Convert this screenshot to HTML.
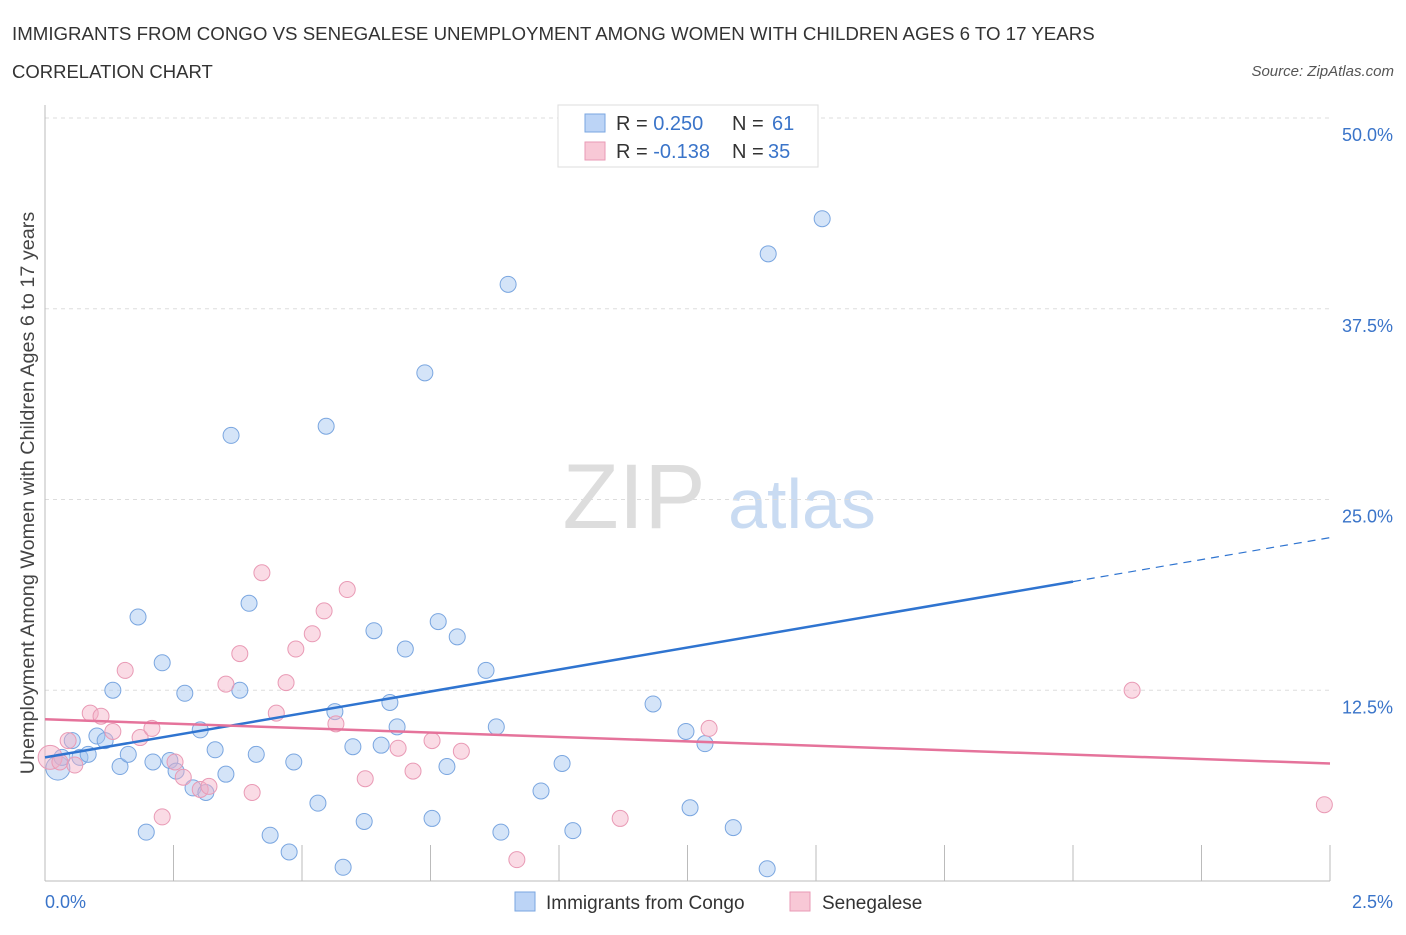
<!DOCTYPE html>
<html><head><meta charset="utf-8"><style>
body{margin:0;background:#fff;font-family:"Liberation Sans",sans-serif}
svg text{font-family:"Liberation Sans",sans-serif}
</style></head><body>
<svg id="c" width="1406" height="930" viewBox="0 0 1406 930">
<text x="12" y="40" font-size="18.7" fill="#333">IMMIGRANTS FROM CONGO VS SENEGALESE UNEMPLOYMENT AMONG WOMEN WITH CHILDREN AGES 6 TO 17 YEARS</text>
<text x="12" y="78" font-size="18.5" fill="#333">CORRELATION CHART</text>
<text x="1394" y="76" font-size="15" fill="#555" font-style="italic" text-anchor="end">Source: ZipAtlas.com</text>
<g><text x="634" y="528" font-size="92" fill="#ddd" font-family="Liberation Serif" text-anchor="middle">ZIP</text><text x="802" y="528" font-size="70" fill="#c9dbf2" text-anchor="middle">atlas</text></g>
<g id="grid"></g><g id="axes"></g><g id="marks"></g>
<text transform="translate(34,493) rotate(-90)" font-size="19.8" fill="#444" text-anchor="middle">Unemployment Among Women with Children Ages 6 to 17 years</text>
<g>
<rect x="558" y="105" width="260" height="62" fill="#fff" stroke="#ddd"/>
<rect x="585" y="114" width="20" height="18" fill="#bcd4f6" stroke="#7aa6e0"/>
<rect x="585" y="142" width="20" height="18" fill="#f8c8d6" stroke="#e99ab5"/>
<text x="616" y="130" font-size="20" fill="#333">R = <tspan fill="#3a74c9">0.250</tspan><tspan x="732">N = </tspan><tspan fill="#3a74c9" x="772">61</tspan></text>
<text x="616" y="158" font-size="20" fill="#333">R = <tspan fill="#3a74c9">-0.138</tspan><tspan x="732">N = </tspan><tspan fill="#3a74c9" x="768">35</tspan></text>
</g>
<g>
<rect x="515" y="892" width="20" height="19" fill="#bcd4f6" stroke="#7aa6e0"/>
<text x="546" y="909" font-size="19" fill="#333">Immigrants from Congo</text>
<rect x="790" y="892" width="20" height="19" fill="#f8c8d6" stroke="#e99ab5"/>
<text x="822" y="909" font-size="19" fill="#333">Senegalese</text>
</g>
</svg>
<script>
const xTicks=[0,0.25,0.5,0.75,1,1.25,1.5,1.75,2,2.25,2.5];
const yTicks=[12.5,25,37.5,50];
const yTickLabels=["12.5%","25.0%","37.5%","50.0%"];
const congoX=[0.025,0.033,0.053,0.068,0.084,0.101,0.117,0.132,0.146,0.162,0.181,0.197,0.210,0.228,0.243,0.255,0.272,0.288,0.302,0.313,0.331,0.352,0.362,0.379,0.397,0.411,0.438,0.475,0.484,0.531,0.547,0.564,0.580,0.599,0.621,0.640,0.654,0.671,0.685,0.701,0.739,0.753,0.765,0.782,0.802,0.858,0.878,0.887,0.901,0.965,1.006,1.027,1.183,1.247,1.255,1.284,1.339,1.405,1.407,1.512];
const congoY=[7.4,8.1,9.2,8.1,8.3,9.5,9.2,12.5,7.5,8.3,17.3,3.2,7.8,14.3,7.9,7.2,12.3,6.1,9.9,5.8,8.6,7.0,29.2,12.5,18.2,8.3,3.0,1.9,7.8,5.1,29.8,11.1,0.9,8.8,3.9,16.4,8.9,11.7,10.1,15.2,33.3,4.1,17.0,7.5,16.0,13.8,10.1,3.2,39.1,5.9,7.7,3.3,11.6,9.8,4.8,9.0,3.5,0.8,41.1,43.4];
const senX=[0.010,0.029,0.045,0.058,0.088,0.109,0.132,0.156,0.185,0.208,0.228,0.253,0.269,0.302,0.319,0.352,0.379,0.403,0.422,0.450,0.469,0.488,0.520,0.543,0.566,0.588,0.623,0.687,0.716,0.753,0.810,0.918,1.119,1.292,2.115,2.489];
const senY=[8.1,7.8,9.2,7.6,11.0,10.8,9.8,13.8,9.4,10.0,4.2,7.8,6.8,6.0,6.2,12.9,14.9,5.8,20.2,11.0,13.0,15.2,16.2,17.7,10.3,19.1,6.7,8.7,7.2,9.2,8.5,1.4,4.1,10.0,12.5,5.0];
const congoTrend=[8.1,22.5]; const senTrend=[10.6,7.7];
const NS='http://www.w3.org/2000/svg';
const X=v=>45+v/2.5*1285, Y=v=>881-v/50*763;
function mk(p,t,a){const e=document.createElementNS(NS,t);for(const k in a)e.setAttribute(k,a[k]);p.appendChild(e);return e;}
const grid=document.getElementById('grid'),axes=document.getElementById('axes'),marks=document.getElementById('marks');
yTicks.forEach((v,i)=>{const l=mk(grid,'line',{x1:45,x2:1330,y1:Y(v),y2:Y(v),stroke:'#ddd','stroke-dasharray':'4,4'});


const t=mk(axes,'text',{x:1393,y:Y(v)+23,'font-size':18,fill:'#3a74c9','text-anchor':'end'});t.textContent=yTickLabels[i];

});
const xa=mk(axes,'line',{x1:45,x2:1330,y1:881,y2:881,stroke:'#bbb'});


const ya=mk(axes,'line',{x1:45,x2:45,y1:105,y2:881,stroke:'#bbb'});


xTicks.forEach(v=>{const l=mk(axes,'line',{x1:X(v),x2:X(v),y1:845,y2:881,stroke:'#bbb'});

});
[["0.0%",45,'start'],["2.5%",1393,'end']].forEach(d=>{const t=mk(axes,'text',{x:d[1],y:908,'font-size':18,fill:'#3a74c9','text-anchor':d[2]});t.textContent=d[0];

});
function pts(xs,ys,fill,stroke,name){xs.forEach((x,i)=>{const big=i===0;const c=mk(marks,'circle',{cx:X(x),cy:Y(ys[i]),r:big?12:8,fill:fill,stroke:stroke,'stroke-width':1});

});}
pts(congoX,congoY,'rgba(160,195,240,0.45)','#7aa6e0','congo-point');
pts(senX,senY,'rgba(245,175,198,0.45)','#e99ab5','senegalese-point');
const ym=congoTrend[0]+(congoTrend[1]-congoTrend[0])*0.8;
const b1=mk(marks,'line',{x1:X(0),y1:Y(congoTrend[0]),x2:X(2),y2:Y(ym),stroke:'#2f74d0','stroke-width':2.5});


const b2=mk(marks,'line',{x1:X(2),y1:Y(ym),x2:X(2.5),y2:Y(congoTrend[1]),stroke:'#2f74d0','stroke-width':1.2,'stroke-dasharray':'8,6'});


const p1=mk(marks,'line',{x1:X(0),y1:Y(senTrend[0]),x2:X(2.5),y2:Y(senTrend[1]),stroke:'#e5739b','stroke-width':2.5});


</script>
</body></html>
